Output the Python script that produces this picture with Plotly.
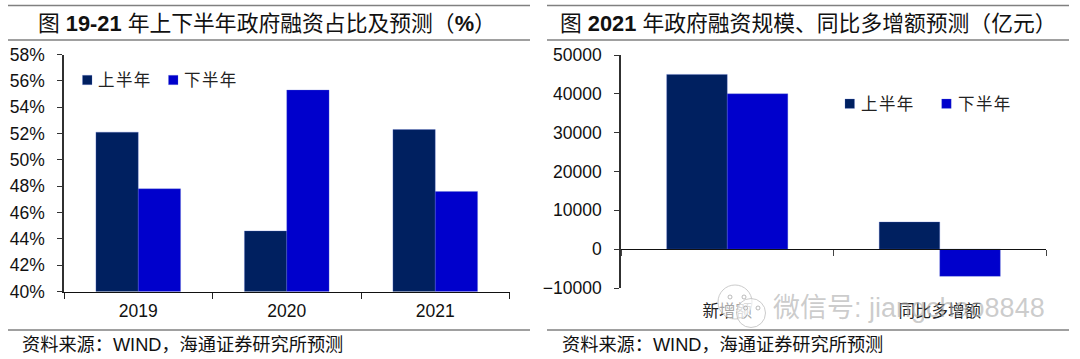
import plotly.graph_objects as go

W, H = 1080, 359
years = ["2019", "2020", "2021"]
share_h1 = [52.1, 44.6, 52.3]
share_h2 = [47.8, 55.3, 47.6]
scale_cats = ["新增额", "同比多增额"]
scale_h1 = [45000, 7000]
scale_h2 = [40000, -7000]
name_h1 = "上\u200a半\u200a年"
name_h2 = "下\u200a半\u200a年"
title_l = "图 <b>19-21</b> 年上下半年政府融资占比及预测\uff08<b>%</b>\uff09"
title_r = "图 <b>2021</b> 年政府融资规模、同比多增额预测\uff08亿元\uff09"
source = "资料来源\uff1aWIND\uff0c海通证券研究所预测"

NAVY, BLUE = "#002060", "#0000CC"
FONT = "Liberation Sans, Arial, Noto Sans CJK SC"
def X(p): return p / W
def Y(p): return 1 - p / H

fig = go.Figure()
edge = dict(color="rgba(90,110,210,0.6)", width=0.5)
fig.add_bar(x=years, y=share_h1, name=name_h1, marker=dict(color=NAVY, line=edge), xaxis="x", yaxis="y")
fig.add_bar(x=years, y=share_h2, name=name_h2, marker=dict(color=BLUE, line=edge), xaxis="x", yaxis="y")
fig.add_bar(x=scale_cats, y=scale_h1, name=name_h1, marker=dict(color=NAVY, line=edge), xaxis="x2", yaxis="y2")
fig.add_bar(x=scale_cats, y=scale_h2, name=name_h2, marker=dict(color=BLUE, line=edge), xaxis="x2", yaxis="y2")
# carrier for the axis line drawn through zero
fig.add_scatter(x=scale_cats, y=[0, 0], mode="lines", line=dict(width=0), xaxis="x3", yaxis="y2",
                showlegend=False, hoverinfo="skip")

tick = dict(size=17.5, color="#111111", family=FONT)
zero_frac = Y(249.3)
fig.update_layout(
    width=W, height=H, margin=dict(l=0, r=0, t=0, b=0, autoexpand=False), autosize=False,
    paper_bgcolor="white", plot_bgcolor="white", barmode="group", bargap=0.43, bargroupgap=0,
    font=dict(family=FONT), showlegend=False,
    xaxis=dict(domain=[X(64), X(509.5)], anchor="y", type="category", tickson="boundaries", ticks="outside",
               ticklen=6, tickcolor="#222", showline=True, linecolor="#111", linewidth=1.2, showgrid=False,
               tickfont=tick, ticklabelstandoff=3),
    yaxis=dict(domain=[Y(291.5), Y(54.5)], anchor="x", range=[40, 58], dtick=2, ticksuffix="%", ticks="outside",
               ticklen=5, tickcolor="#333", showline=True, linecolor="#303030", linewidth=1.5, showgrid=False,
               zeroline=False, tickfont=tick, ticklabelstandoff=9),
    xaxis2=dict(domain=[X(621), X(1046)], anchor="y2", type="category", categoryarray=scale_cats,
                categoryorder="array", range=[-0.5, 1.5], ticks="", showline=False, showgrid=False,
                tickfont=dict(size=16.5, color="#222", family=FONT), ticklabelstandoff=11),
    xaxis3=dict(domain=[X(621), X(1046)], anchor="free", position=zero_frac, overlaying="x2", type="category",
                categoryarray=scale_cats, categoryorder="array", range=[-0.5, 1.5], tickson="boundaries",
                ticks="outside", ticklen=6, tickcolor="#444", showline=True, linecolor="#111", linewidth=1.2,
                showgrid=False, showticklabels=False),
    yaxis2=dict(domain=[Y(288), Y(55)], anchor="x2", range=[-10000, 50000], dtick=10000, ticks="outside",
                ticklen=5, tickcolor="#333", showline=True, linecolor="#303030", linewidth=1.5, showgrid=False,
                zeroline=False, tickfont=tick, ticklabelstandoff=9, tickformat="d"),
)

rule = dict(type="line", xref="paper", yref="paper", line=dict(color="#808080", width=1.5))
for a, b in ((8, 530), (547, 1069)):
    for py in (5.5, 40, 330):
        fig.add_shape(x0=X(a), x1=X(b), y0=Y(py), y1=Y(py), **rule)

def note(px, py, text, size, color="#111111", anchor="center", **kw):
    fig.add_annotation(x=X(px), y=Y(py), xref="paper", yref="paper", text=text, showarrow=False,
                       xanchor=anchor, yanchor="middle", font=dict(size=size, color=color, family=FONT), **kw)

note(267, 24, title_l, 21.8)
note(808, 24, title_r, 21.8)
note(20, 345, source, 18.2, anchor="left")
note(560, 345, source, 18.2, anchor="left")

# legends: swatch left edge, text left edge, name, colour, centre y
for sx, tx, nm, col, cy in ((82.5, 96, name_h1, NAVY, 80), (168.5, 182, name_h2, BLUE, 80),
                            (845, 859, name_h1, NAVY, 103.7), (941.7, 956, name_h2, BLUE, 103.7)):
    fig.add_shape(type="rect", xref="paper", yref="paper", x0=X(sx), x1=X(sx + 9.5), y0=Y(cy + 4.7), y1=Y(cy - 4.7),
                  fillcolor=col, line=dict(color="rgba(90,110,210,0.5)", width=0.5))
    note(tx, cy, nm, 16.5, color="#222222", anchor="left")

# watermark: text plus two speech bubbles with eyes
note(771, 308, "微信号: jiangchao8848", 27, color="rgba(170,170,170,0.6)", anchor="left")
bubble = dict(type="circle", xref="paper", yref="paper", layer="above",
              line=dict(color="rgba(190,190,190,0.8)", width=1), fillcolor="rgba(255,255,255,0.6)")
for cx, cy, r in ((735, 302, 17), (751, 313, 14.5)):
    fig.add_shape(x0=X(cx - r), x1=X(cx + r), y0=Y(cy + r), y1=Y(cy - r), **bubble)
eye = dict(type="circle", xref="paper", yref="paper", layer="above",
           line=dict(color="rgba(170,170,170,0.8)", width=1), fillcolor="rgba(255,255,255,0)")
for cx, cy in ((730, 297), (744, 297), (745.5, 308), (758, 308)):
    fig.add_shape(x0=X(cx - 2), x1=X(cx + 2), y0=Y(cy + 2), y1=Y(cy - 2), **eye)

fig.write_html("out.html", config=dict(displayModeBar=False), post_script="document.body.style.margin='0';")
